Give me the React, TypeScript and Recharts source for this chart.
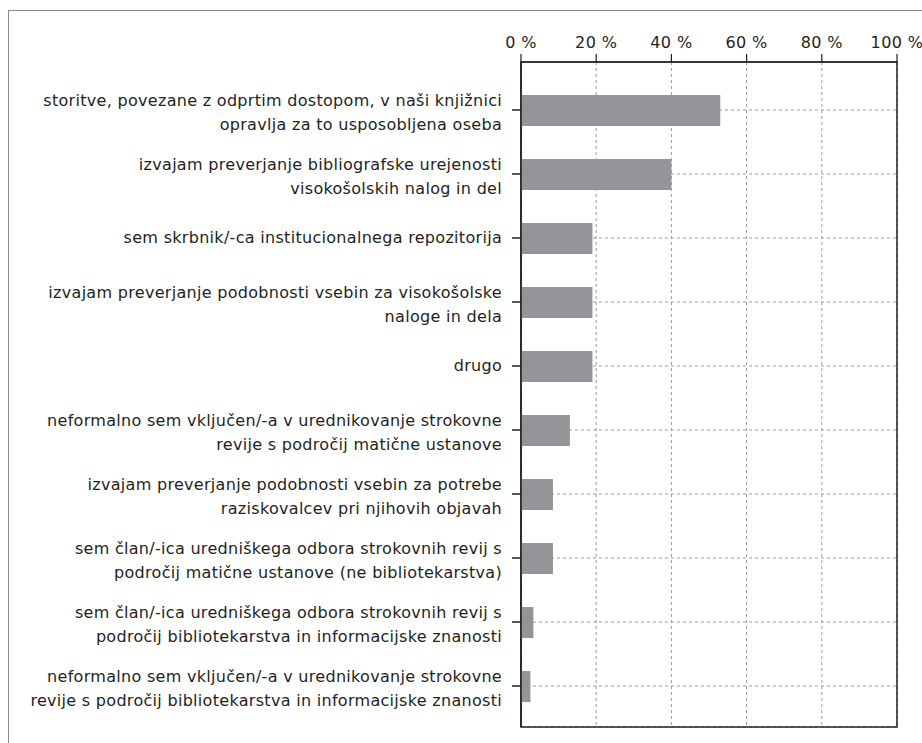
import React from 'react';
import { BarChart, Bar, XAxis, YAxis, CartesianGrid, ReferenceArea } from 'recharts';

const categories = [
  'storitve, povezane z odprtim dostopom, v naši knjižnici\nopravlja za to usposobljena oseba',
  'izvajam preverjanje bibliografske urejenosti\nvisokošolskih nalog in del',
  'sem skrbnik/-ca institucionalnega repozitorija',
  'izvajam preverjanje podobnosti vsebin za visokošolske\nnaloge in dela',
  'drugo',
  'neformalno sem vključen/-a v urednikovanje strokovne\nrevije s področij matične ustanove',
  'izvajam preverjanje podobnosti vsebin za potrebe\nraziskovalcev pri njihovih objavah',
  'sem član/-ica uredniškega odbora strokovnih revij s\npodročij matične ustanove (ne bibliotekarstva)',
  'sem član/-ica uredniškega odbora strokovnih revij s\npodročij bibliotekarstva in informacijske znanosti',
  'neformalno sem vključen/-a v urednikovanje strokovne\nrevije s področij bibliotekarstva in informacijske znanosti',
];

const values = [53, 40, 19, 19, 19, 13, 8.5, 8.5, 3.3, 2.5];

const percentTicks = [0, 20, 40, 60, 80, 100];

// rows are placed on a numeric axis so the frame can span the whole plot
const rowTicks = categories.map((_, i) => i);
const data = categories.map((name, i) => ({ row: i, name, value: values[i] }));

const FONT = '"DejaVu Sans", sans-serif';
const TEXT = '#231f20';
const AXIS = '#231f20';

function CategoryTick(props: any) {
  const { x, y, payload } = props;
  const lines: string[] = String(categories[payload.value] ?? '').split('\n');
  const first = lines.length === 1 ? 5 : -4;
  return (
    <g>
      {lines.map((line, i) => (
        <text
          key={i}
          x={x}
          y={y + first + i * 24}
          textAnchor="end"
          fill={TEXT}
          fontSize={16}
          letterSpacing={0.3}
          fontFamily={FONT}
        >
          {line}
        </text>
      ))}
    </g>
  );
}

function PercentTick(props: any) {
  const { x, y, payload } = props;
  return (
    <text
      x={x}
      y={y - 4}
      textAnchor="middle"
      fill={TEXT}
      fontSize={16}
      letterSpacing={0.4}
      fontFamily={FONT}
    >
      {`${payload.value} %`}
    </text>
  );
}

export default function App() {
  return (
    <div style={{ position: 'absolute', left: 0, top: 0, width: 922, height: 743, background: '#fff' }}>
      <div
        style={{
          position: 'absolute',
          left: 8,
          top: 10,
          width: 914,
          height: 733,
          borderTop: '1.5px solid #8c8c8c',
          borderLeft: '1.5px solid #8c8c8c',
        }}
      />
      <div style={{ position: 'absolute', left: 0, top: 0 }}>
        <BarChart
          width={922}
          height={743}
          data={data}
          layout="vertical"
          margin={{ top: 0, right: 25, bottom: 16, left: 0 }}
        >
          <CartesianGrid stroke="#9a9a9a" strokeDasharray="3 3" />
          <XAxis
            type="number"
            orientation="top"
            domain={[0, 100]}
            ticks={percentTicks}
            height={62}
            tickSize={8}
            tickMargin={2}
            stroke={AXIS}
            strokeWidth={1.2}
            tick={<PercentTick />}
            interval={0}
          />
          <YAxis
            type="number"
            dataKey="row"
            domain={[-0.75, 9.64]}
            ticks={rowTicks}
            allowDataOverflow
            width={521}
            tickSize={9}
            tickMargin={10}
            stroke={AXIS}
            strokeWidth={1.5}
            tick={<CategoryTick />}
            interval={0}
          />
          <ReferenceArea x1={0} x2={100} fill="none" stroke={AXIS} strokeWidth={1.5} />
          <Bar dataKey="value" fill="#939598" barSize={31} isAnimationActive={false} />
        </BarChart>
      </div>
    </div>
  );
}
